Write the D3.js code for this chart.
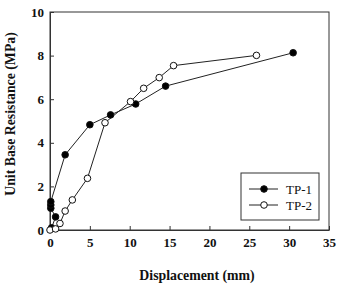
<!DOCTYPE html>
<html><head><meta charset="utf-8">
<script src="https://cdn.jsdelivr.net/npm/d3@7"></script>
<style>body{margin:0;background:#fff}svg{display:block}</style>
</head><body>
<svg id="c" width="337" height="284"></svg>
<script>
const tp1X = [0.2, 0.7, 0.1, 0.1, 0.1, 1.9, 5.0, 7.6, 10.75, 14.5, 30.5];
const tp1Y = [0.1, 0.6, 1.0, 1.15, 1.3, 3.45, 4.83, 5.28, 5.78, 6.6, 8.13];
const tp2X = [0.0, 0.7, 1.25, 1.9, 2.8, 4.7, 6.9, 10.1, 11.75, 13.7, 15.5, 25.9];
const tp2Y = [0.0, 0.05, 0.3, 0.87, 1.38, 2.37, 4.92, 5.89, 6.5, 6.99, 7.54, 8.01];
const xTicks = [0, 5, 10, 15, 20, 25, 30, 35];
const yTicks = [0, 2, 4, 6, 8, 10];
const seriesNames = ["TP-1", "TP-2"];

const svg = d3.select("#c");
const L = 50, R = 329, T = 12, B = 230;
const x = d3.scaleLinear().domain([0, 35]).range([L, R]);
const y = d3.scaleLinear().domain([0, 10]).range([B, T]);
const font = "'Liberation Serif', 'Times New Roman', serif";

svg.append("rect").attr("x", L).attr("y", T).attr("width", R - L).attr("height", B - T)
  .attr("fill", "none").attr("stroke", "#333").attr("stroke-width", 1);

const xa = svg.append("g").attr("transform", `translate(0,${B})`)
  .call(d3.axisBottom(x).tickValues(xTicks).tickSizeInner(-4).tickSizeOuter(0).tickPadding(8));
const ya = svg.append("g").attr("transform", `translate(${L},0)`)
  .call(d3.axisLeft(y).tickValues(yTicks).tickSizeInner(-4).tickSizeOuter(0).tickPadding(6));
[xa, ya].forEach(a => {
  a.select(".domain").attr("stroke", "#333");
  a.selectAll(".tick line").attr("stroke", "#333");
  a.selectAll("text").attr("font-family", font).attr("font-size", 13).attr("font-weight", "bold").attr("fill", "#111");
});

svg.append("text").attr("x", 197).attr("y", 280).attr("text-anchor", "middle")
  .attr("font-family", font).attr("font-size", 13.8).attr("font-weight", "bold").attr("fill", "#111")
  .text("Displacement (mm)");
svg.append("text").attr("transform", "translate(15,114) rotate(-90)").attr("text-anchor", "middle")
  .attr("font-family", font).attr("font-size", 13.8).attr("font-weight", "bold").attr("fill", "#111")
  .text("Unit Base Resistance (MPa)");

const line = d3.line().x(d => x(d[0])).y(d => y(d[1]));
const data = [
  { pts: d3.zip(tp1X, tp1Y), fill: "#000" },
  { pts: d3.zip(tp2X, tp2Y), fill: "#fff" }
];
data.forEach(s => {
  svg.append("path").attr("d", line(s.pts)).attr("fill", "none").attr("stroke", "#222").attr("stroke-width", 1);
});
data.forEach(s => {
  svg.selectAll(null).data(s.pts).enter().append("circle")
    .attr("cx", d => x(d[0])).attr("cy", d => y(d[1])).attr("r", 3.3)
    .attr("fill", s.fill).attr("stroke", "#111").attr("stroke-width", 1);
});

const lg = svg.append("g");
lg.append("rect").attr("x", 241).attr("y", 173).attr("width", 78).attr("height", 47)
  .attr("fill", "#fff").attr("stroke", "#333").attr("stroke-width", 1);
seriesNames.forEach((n, i) => {
  const yy = 189 + i * 16;
  lg.append("line").attr("x1", 249).attr("x2", 278).attr("y1", yy).attr("y2", yy).attr("stroke", "#222");
  lg.append("circle").attr("cx", 264).attr("cy", yy).attr("r", 3.3)
    .attr("fill", data[i].fill).attr("stroke", "#111");
  lg.append("text").attr("x", 286).attr("y", yy + 4.5).attr("font-family", font).attr("font-size", 13)
    .attr("fill", "#111").text(n);
});
</script>
</body></html>
